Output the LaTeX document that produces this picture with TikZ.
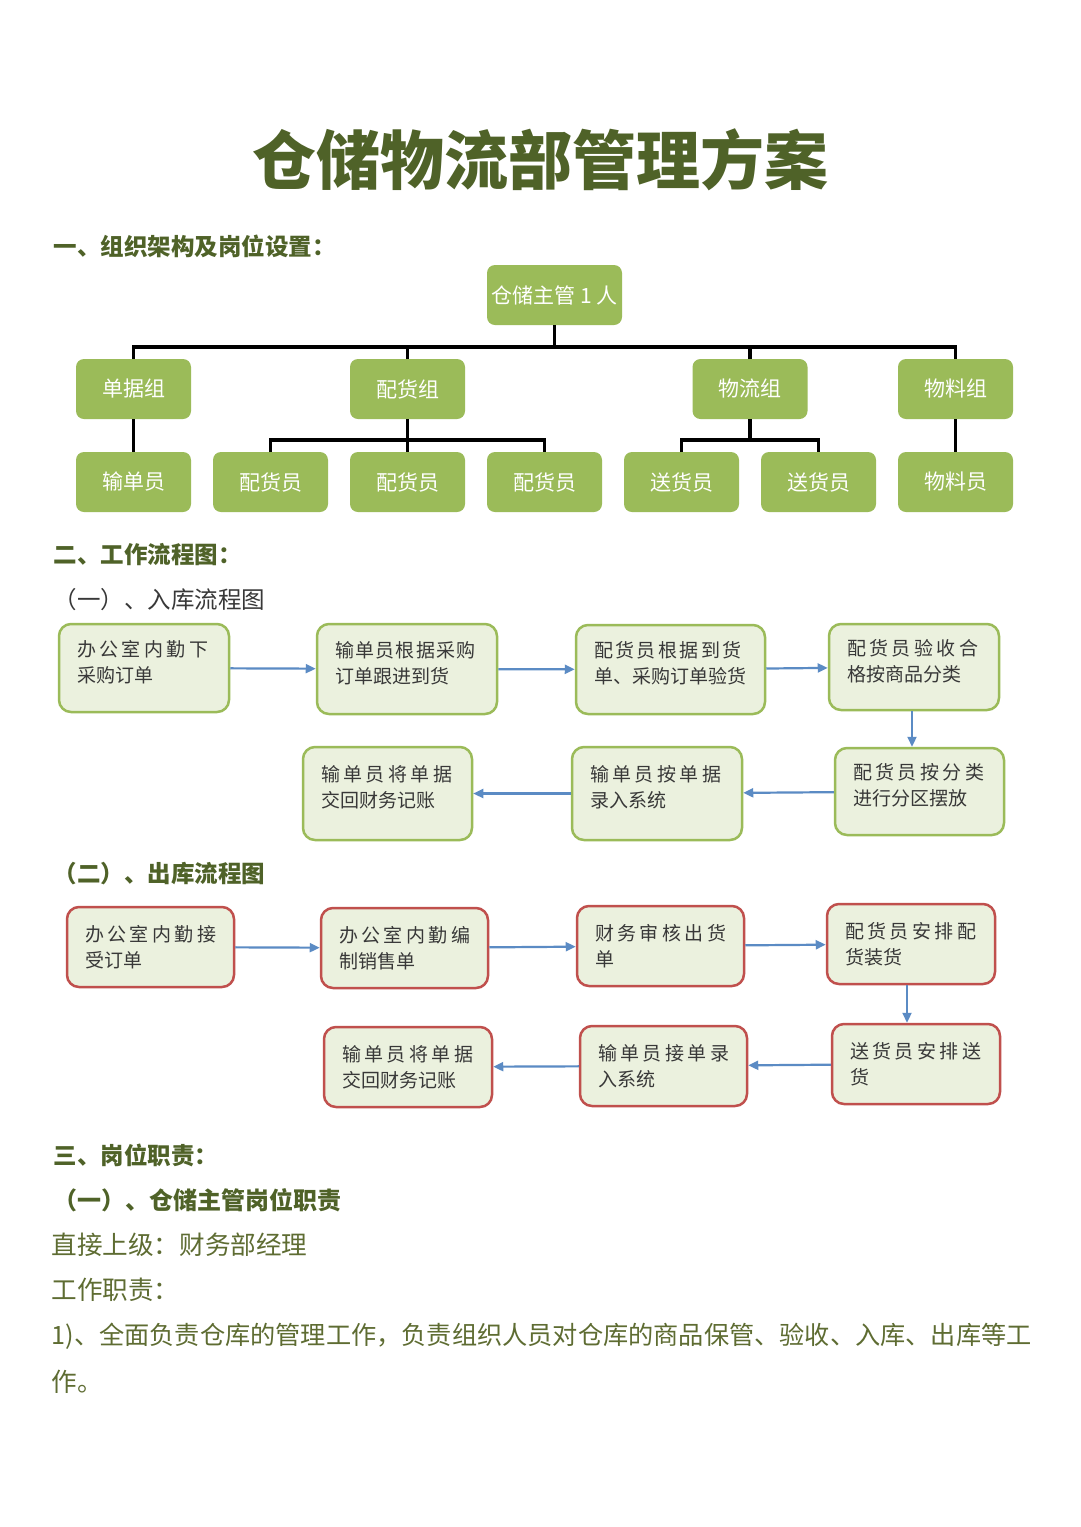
\documentclass[tikz,border=0pt]{standalone}
\usepackage{fontspec}
\setmainfont{Noto Sans CJK SC}
\usepackage{tikz}
\usetikzlibrary{positioning,arrows.meta}
\definecolor{olive}{HTML}{4F6228}
\definecolor{bodyolive}{HTML}{5E6C32}
\definecolor{leaf}{HTML}{9BBB59}
\definecolor{pale}{HTML}{EBF1DE}
\definecolor{brick}{HTML}{C0504D}
\definecolor{flowblue}{HTML}{5B8BC4}
\definecolor{ink}{HTML}{383838}
\newcommand{\wideline}[1]{{\addfontfeature{LetterSpace=18}#1}}

\begin{document}
\begin{tikzpicture}[x=1pt,y=-1pt,node distance=22pt,>={Triangle[length=10pt,width=9pt]},
  org/.style={fill=leaf,rounded corners=8pt,text=white,font=\fontsize{21}{25}\selectfont,
    minimum width=115pt,minimum height=60pt,inner sep=0pt,outer sep=0pt},
  tie/.style={line width=3.5pt},
  flowbox/.style={line width=2.5pt,fill=pale,rounded corners=12pt,align=left,text=ink,
    font=\fontsize{19}{26}\selectfont,inner xsep=18pt,inner ysep=0pt,text width=134pt,minimum height=88pt},
  inbox/.style={flowbox,draw=leaf,text depth=40pt},
  outbox/.style={flowbox,draw=brick,minimum height=80pt,text width=131pt},
  flow/.style={->,draw=flowblue,line width=2.2pt},
  head/.style={anchor=west,text=olive,font=\bfseries\fontsize{23.5}{28}\selectfont},
  body/.style={anchor=west,text=bodyolive,font=\fontsize{25.6}{30}\selectfont}]
  \useasboundingbox[fill=white] (0,0) rectangle (1080,1527);

  \node (title) [text=olive,font=\bfseries\fontsize{64}{70}\selectfont] at (540,160) {仓储物流部管理方案};
  \node (h1) [head] at (50,246) {一、组织架构及岗位设置：};

  % org chart
  \node (boss) [org,minimum width=135pt] at (554.5,295) {仓储主管 1 人};
  \node (m1) [org] at (133.5,482) {输单员};
  \node (m2) [org,right=of m1] {配货员};
  \node (m3) [org,right=of m2] {配货员};
  \node (m4) [org,right=of m3] {配货员};
  \node (m5) [org,right=of m4] {送货员};
  \node (m6) [org,right=of m5] {送货员};
  \node (m7) [org,right=of m6] {物料员};
  \node (g1) [org,above=33pt of m1] {单据组};
  \node (g2) [org,above=33pt of m3] {配货组};
  \node (g3) [org,above=33pt of m5,xshift=68.5pt] {物流组};
  \node (g4) [org,above=33pt of m7] {物料组};
  \coordinate (busA) at (554.5,347);
  \coordinate (busB) at (407.5,440);
  \coordinate (busC) at (750,440);
  \draw[tie] (boss) -- (busA);
  \draw[tie] (g1.north) -- (g1.north |- busA) -- (g4.north |- busA) -- (g4.north);
  \draw[tie] (g2.north) -- (g2.north |- busA);
  \draw[tie] (g3.north) -- (g3.north |- busA);
  \draw[tie] (g1) -- (m1);
  \draw[tie] (g4) -- (m7);
  \draw[tie] (g2) -- (m3);
  \draw[tie] (m2.north) -- (m2.north |- busB) -- (m4.north |- busB) -- (m4.north);
  \draw[tie] (g3) -- (busC);
  \draw[tie] (m5.north) -- (m5.north |- busC) -- (m6.north |- busC) -- (m6.north);

  % inbound flow
  \node (h2) [head] at (50,555) {二、工作流程图：};
  \node (h21) [head,font=\fontsize{23.5}{28}\selectfont,text=ink] at (50,600) {（一）、入库流程图};
  \node (a1) [inbox] at (144,668) {\wideline{办公室内勤下}\\采购订单};
  \node (a2) [inbox,text width=144pt,minimum height=90pt] at (407,669)
    {{\addfontfeature{LetterSpace=7}输单员根据采购}\\订单跟进到货};
  \node (a3) [inbox,text width=153pt,minimum height=89pt] at (670.5,669.5)
    {{\addfontfeature{LetterSpace=13}配货员根据到货}\\单、采购订单验货};
  \node (a4) [inbox,minimum height=86pt] at (914,667) {\wideline{配货员验收合}\\格按商品分类};
  \node (a5) [inbox,text width=133pt,minimum height=87pt] at (919.5,791.5) {\wideline{配货员按分类}\\进行分区摆放};
  \node (a6) [inbox,minimum height=93pt] at (657,793.5) {\wideline{输单员按单据}\\录入系统};
  \node (a7) [inbox,text width=133pt,minimum height=93pt] at (387.5,793.5) {\wideline{输单员将单据}\\交回财务记账};
  \draw[flow] (a1) -- (a2);
  \draw[flow] (a2) -- (a3);
  \draw[flow] (a3) -- (a4);
  \draw[flow] (a4.south -| 912,0) -- (a5.north -| 912,0);
  \draw[flow] (a5) -- (a6);
  \draw[flow] (a6) -- (a7);

  % outbound flow
  \node (h22) [head,font=\bfseries\fontsize{23.5}{28}\selectfont] at (50,874) {（二）、出库流程图};
  \node (b1) [outbox] at (150.5,947) {\wideline{办公室内勤接}\\受订单};
  \node (b2) [outbox] at (404.5,948) {\wideline{办公室内勤编}\\制销售单};
  \node (b3) [outbox] at (660.5,946) {\wideline{财务审核出货}\\单};
  \node (b4) [outbox,text width=132pt] at (911,944) {\wideline{配货员安排配}\\货装货};
  \node (b5) [outbox,text width=132pt] at (916,1064) {\wideline{送货员安排送}\\货};
  \node (b6) [outbox] at (663.5,1066) {\wideline{输单员接单录}\\入系统};
  \node (b7) [outbox,text width=132pt] at (408,1067) {\wideline{输单员将单据}\\交回财务记账};
  \draw[flow] (b1) -- (b2);
  \draw[flow] (b2) -- (b3);
  \draw[flow] (b3) -- (b4);
  \draw[flow] (b4.south -| 907,0) -- (b5.north -| 907,0);
  \draw[flow] (b5) -- (b6);
  \draw[flow] (b6) -- (b7);

  % duties
  \node (h3) [head] at (50,1155) {三、岗位职责：};
  \node (h31) [head,font=\bfseries\fontsize{24}{28}\selectfont] at (50,1200) {（一）、仓储主管岗位职责};
  \node (t1) [body] at (48,1245) {直接上级：财务部经理};
  \node (t2) [body] at (48,1290) {工作职责：};
  \node (t3) [body,font=\fontsize{25.2}{30}\selectfont] at (48,1336) {1)、全面负责仓库的管理工作，负责组织人员对仓库的商品保管、验收、入库、出库等工};
  \node (t4) [body] at (48,1382) {作。};
\end{tikzpicture}
\end{document}
